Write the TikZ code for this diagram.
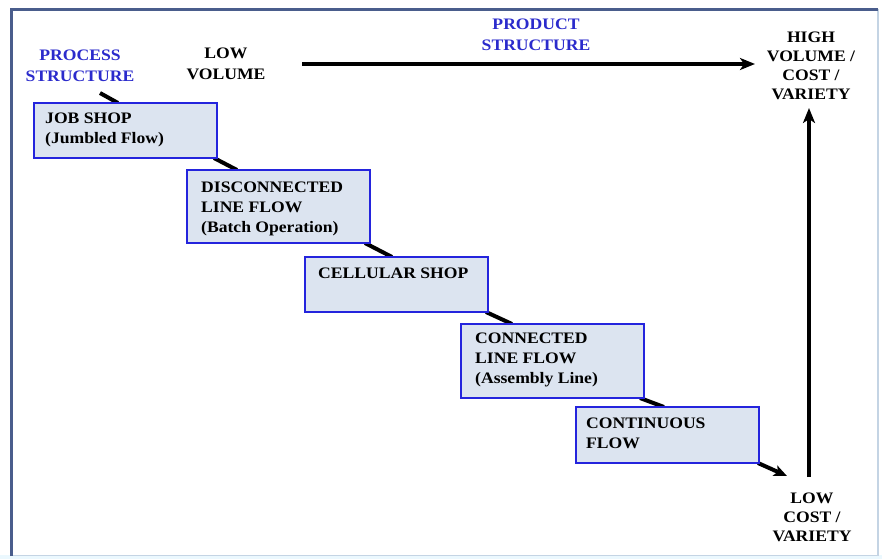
\documentclass[tikz,border=0pt]{standalone}
\usepackage{fontspec}
\setmainfont{Liberation Serif}[FakeStretch=1.1]
\usetikzlibrary{arrows.meta,backgrounds}
\definecolor{procblue}{HTML}{2B2BCC}
\definecolor{boxblue}{HTML}{2424DD}
\definecolor{boxfill}{HTML}{DCE4F0}
\definecolor{framedark}{HTML}{4A5D8C}
\definecolor{framelight}{HTML}{C4D4E4}
\tikzset{
  stepbox/.style={draw=boxblue, line width=1.8pt, fill=boxfill, minimum width=183pt, inner sep=0pt, outer sep=0pt},
  boxtext/.style={anchor=north west, inner sep=0pt, align=left, font=\fontsize{16}{20}\selectfont\bfseries},
  toplabel/.style={anchor=north, inner sep=0pt, align=center, font=\fontsize{16}{20.5}\selectfont\bfseries},
  sidelabel/.style={anchor=north, inner sep=0pt, align=center, font=\fontsize{16}{19}\selectfont\bfseries},
  conn/.style={line width=4pt, black},
  bigarrow/.style={line width=3.5pt, black, -{Stealth[length=15pt,width=12pt,inset=4pt]}},
  smallarrow/.style={line width=4pt, black, -{Stealth[length=13pt,width=11pt,inset=3pt]}}
}
\begin{document}
\begin{tikzpicture}[x=1pt,y=-1pt]
\useasboundingbox (0,0) rectangle (882,559);
% boxes
\node[stepbox, minimum height=55pt, anchor=north west] (b1) at (34,103) {};
\node[stepbox, minimum height=73pt, anchor=north west] (b2) at (187,170) {};
\node[stepbox, minimum height=55pt, anchor=north west] (b3) at (305,257) {};
\node[stepbox, minimum height=74pt, anchor=north west] (b4) at (461,324) {};
\node[stepbox, minimum height=56pt, anchor=north west] (b5) at (576,407) {};
\node[boxtext] (t1) at ([shift={(11pt,-10pt)}]b1.north west) {JOB SHOP\\(Jumbled Flow)};
\node[boxtext] (t2) at ([shift={(14pt,-12pt)}]b2.north west) {DISCONNECTED\\LINE FLOW\\(Batch Operation)};
\node[boxtext] (t3) at ([shift={(13pt,-11pt)}]b3.north west) {CELLULAR SHOP};
\node[boxtext] (t4) at ([shift={(14pt,-9pt)}]b4.north west) {CONNECTED\\LINE FLOW\\(Assembly Line)};
\node[boxtext] (t5) at ([shift={(10pt,-11pt)}]b5.north west) {CONTINUOUS\\FLOW};
% labels
\node[toplabel, text=procblue] (ps) at (80,50) {PROCESS\\STRUCTURE};
\node[toplabel] (lv) at (226,48) {LOW\\VOLUME};
\node[toplabel, text=procblue] (pr) at (536,19) {PRODUCT\\STRUCTURE};
\node[sidelabel] (hv) at (811,32) {HIGH\\VOLUME /\\COST /\\VARIETY};
\node[sidelabel] (lc) at (812,493) {LOW\\COST /\\VARIETY};
% coordinates
\coordinate (p0) at (100,93);
\coordinate (tip) at (787,476);
\coordinate (hstart) at (302,64);
\coordinate (hend) at (755,64);
\coordinate (vbot) at (809,477);
\coordinate (vtop) at (809,108);
\begin{scope}[on background layer]
  \fill[white] (0,0) rectangle (882,559);
  \fill[white!92!cyan] (0,555) rectangle (882,559);
  \draw[framelight, line width=1.5pt] (878,9) -- (878,555.5) -- (11,555.5);
  \draw[framedark, line width=3pt] (11,556) -- (11,10) -- (878,10);
  \draw[conn] (p0) -- ([xshift=84pt]b1.north west);
  \draw[conn] ([xshift=-3pt]b1.south east) -- ([xshift=50pt]b2.north west);
  \draw[conn] ([xshift=-5pt]b2.south east) -- ([xshift=87pt]b3.north west);
  \draw[conn] ([xshift=-2pt]b3.south east) -- ([xshift=51pt]b4.north west);
  \draw[conn] ([xshift=-4pt]b4.south east) -- ([xshift=88pt]b5.north west);
  \draw[smallarrow] ([xshift=-1pt]b5.south east) -- (tip);
\end{scope}
\draw[bigarrow] (hstart) -- (hend);
\draw[bigarrow] (vbot) -- (vtop);
\end{tikzpicture}
\end{document}
